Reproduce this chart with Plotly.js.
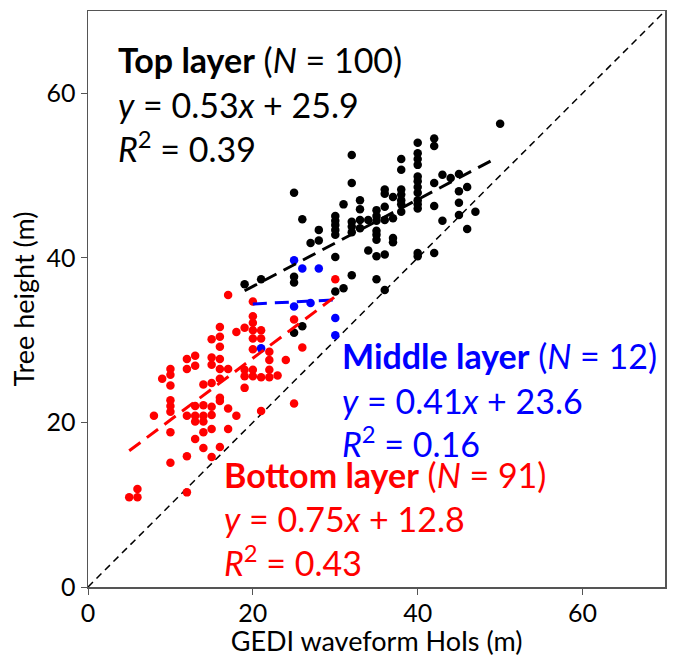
<!DOCTYPE html>
<html>
<head>
<meta charset="utf-8">
<script src="https://cdn.plot.ly/plotly-3.0.1.min.js"></script>
<style>html,body{margin:0;padding:0;background:#fff;}#chart{width:673px;height:657px;}</style>
</head>
<body>
<div id="chart"></div>
<script>
// Top layer points
const topX = [19, 21, 25, 25, 25, 25, 26, 26, 27, 28, 28,
  30, 30, 30, 30, 30, 30, 30, 31, 31,
  32, 32, 32, 32, 32, 32, 33, 33, 33, 33, 34, 34,
  35, 35, 35, 35, 35, 35, 35, 35,
  36, 36, 36, 36, 36, 36, 37, 37, 37, 37,
  38, 38, 38, 38, 38, 38, 38,
  40, 40, 40, 40, 40, 40, 40, 40, 40, 40, 40, 40, 40,
  42, 42, 42, 42, 42, 43, 43, 44, 45, 45, 45, 45, 46, 46, 47, 50];
const topY = [36.8, 37.4, 47.9, 37.7, 37.0, 30.9, 44.7, 31.7, 41.8, 43.4, 42.1,
  45.1, 44.5, 44.0, 43.4, 42.8, 40.1, 35.9, 46.5, 36.3,
  52.5, 49.1, 44.4, 43.8, 43.1, 37.9, 47.0, 45.9, 44.6, 43.6, 44.6, 40.9,
  45.8, 45.1, 44.5, 43.3, 42.8, 42.2, 40.2, 37.4,
  48.3, 47.8, 46.2, 44.6, 40.4, 36.1, 47.4, 44.8, 42.4, 41.9,
  52.0, 50.7, 48.3, 47.7, 47.0, 46.5, 45.6,
  54.0, 52.7, 52.0, 51.3, 49.9, 49.3, 48.6, 47.9, 47.0, 46.5, 46.0, 40.6, 40.2,
  54.5, 53.6, 49.1, 46.3, 40.6, 50.1, 44.5, 49.7, 50.2, 48.1, 46.7, 45.2, 48.6, 43.5, 45.6, 56.3];

// Middle layer points
const midX = [25, 26, 28, 25, 27, 30, 30, 21];
const midY = [39.7, 38.7, 38.7, 34.1, 34.5, 32.7, 30.6, 29.0];

// Bottom layer points
const botX = [5, 6, 6, 8, 9,
  10, 10, 10, 10, 10, 10, 10, 10,
  12, 12, 12, 12, 12,
  13, 13, 13, 13, 13, 13,
  14, 14, 14, 14, 14, 14,
  15, 15, 15, 15, 15, 15, 15, 15,
  16, 16, 16, 16, 16, 16, 16, 16, 16,
  17, 17, 17, 17, 18, 18,
  19, 19, 19, 19,
  20, 20, 20, 20, 20, 20, 20, 20,
  21, 21, 21, 21, 22, 22, 22, 22,
  23, 24, 25, 25, 26, 30];
const botY = [10.9, 11.9, 10.9, 20.8, 25.3,
  26.5, 25.8, 24.5, 22.7, 22.0, 21.3, 18.8, 15.1,
  27.7, 26.5, 20.8, 15.9, 11.5,
  28.1, 26.9, 22.0, 20.8, 20.1, 18.0,
  24.6, 22.1, 20.8, 20.1, 18.8, 16.9,
  30.1, 27.9, 27.0, 24.8, 21.9, 20.9, 19.2, 15.8,
  31.6, 30.4, 29.2, 27.7, 26.5, 25.3, 23.0, 22.6, 17.0,
  35.5, 26.5, 21.7, 19.2, 31.0, 20.8,
  31.5, 26.4, 25.6, 24.2,
  34.7, 32.9, 32.1, 31.2, 30.2, 28.9, 26.4, 25.6,
  31.2, 30.2, 25.5, 21.4, 28.6, 27.6, 26.4, 25.5,
  25.7, 27.6, 32.5, 22.3, 29.1, 37.4];

// Fitted lines (as drawn) and 1:1 line
const topFitX = [19, 49.5], topFitY = [36.0, 52.1];
const midFitX = [20, 30], midFitY = [34.4, 34.9];
const botFitX = [5, 30], botFitY = [16.55, 35.3];
const oneX = [0, 70], oneY = [0, 70];

// Tick values
const tickVals = [0, 20, 40, 60];

const FONT = 'Lato, "Open Sans", sans-serif';

const traces = [
  {x: oneX, y: oneY, mode: 'lines', line: {color: '#000', width: 1.5, dash: '7px,5px'}, hoverinfo: 'skip'},
  {x: topX, y: topY, mode: 'markers', marker: {color: '#000', size: 8.5}},
  {x: botX, y: botY, mode: 'markers', marker: {color: '#ff0000', size: 8.5}},
  {x: midX, y: midY, mode: 'markers', marker: {color: '#0000ff', size: 8.5}},
  {x: topFitX, y: topFitY, mode: 'lines', line: {color: '#000', width: 3, dash: '14px,8px'}},
  {x: midFitX, y: midFitY, mode: 'lines', line: {color: '#0000ff', width: 3, dash: '14px,8px'}},
  {x: botFitX, y: botFitY, mode: 'lines', line: {color: '#ff0000', width: 3, dash: '14px,8px'}}
];

function ann(text, px, py, color) {
  return {text: text, xref: 'paper', yref: 'paper',
    x: (px - 88) / 577, y: (587 - py) / 576,
    xanchor: 'left', yanchor: 'middle', showarrow: false,
    font: {family: FONT, size: 34, color: color}};
}

const layout = {
  width: 673, height: 657,
  margin: {l: 88, r: 8, t: 11, b: 70},
  paper_bgcolor: '#fff', plot_bgcolor: '#fff',
  showlegend: false,
  font: {family: FONT, color: '#000'},
  xaxis: {range: [0, 70], tickvals: tickVals, ticks: 'outside', ticklen: 6, tickcolor: '#555',
    showgrid: false, zeroline: false, showline: true, mirror: true, linecolor: '#555', linewidth: 1.5,
    tickfont: {size: 25, family: FONT, color: '#000'}, ticklabelstandoff: -3,
    title: {text: 'GEDI waveform HoIs (m)', font: {size: 27, family: FONT, color: '#000'}, standoff: 0}},
  yaxis: {range: [0, 70], tickvals: tickVals, ticks: 'outside', ticklen: 6, tickcolor: '#555',
    showgrid: false, zeroline: false, showline: true, mirror: true, linecolor: '#555', linewidth: 1.5,
    tickfont: {size: 25, family: FONT, color: '#000'},
    title: {text: 'Tree height (m)', font: {size: 27, family: FONT, color: '#000'}, standoff: 4}},
  annotations: [
    ann('<b>Top layer</b> (<i>N</i> = 100)', 116, 60, '#000'),
    ann('<i>y</i> = 0.53<i>x</i> + 25.9', 116, 104, '#000'),
    ann('<i>R</i><sup>2</sup> = 0.39', 116, 147, '#000'),
    ann('<b>Middle layer</b> (<i>N</i> = 12)', 340, 356, '#0000ff'),
    ann('<i>y</i> = 0.41<i>x</i> + 23.6', 340, 401, '#0000ff'),
    ann('<i>R</i><sup>2</sup> = 0.16', 340, 442, '#0000ff'),
    ann('<b>Bottom layer</b> (<i>N</i> = 91)', 222, 474, '#ff0000'),
    ann('<i>y</i> = 0.75<i>x</i> + 12.8', 222, 518, '#ff0000'),
    ann('<i>R</i><sup>2</sup> = 0.43', 222, 561, '#ff0000')
  ]
};

Plotly.newPlot('chart', traces, layout, {displayModeBar: false, staticPlot: true});
</script>
</body>
</html>
